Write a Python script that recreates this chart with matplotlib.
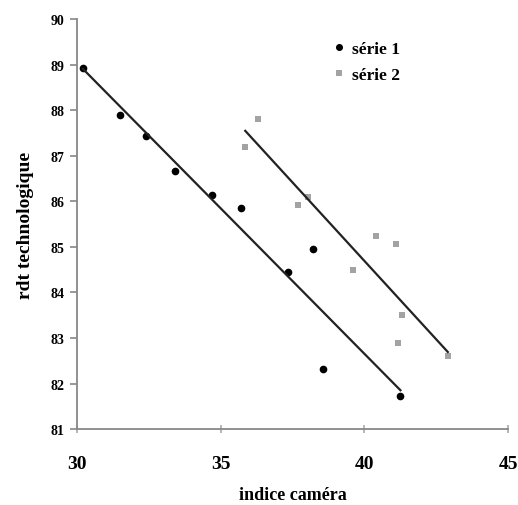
import numpy as np
import matplotlib
matplotlib.use("Agg")
from matplotlib import pyplot as plt

# série 1 (points noirs)
x1 = [30.2, 31.5, 32.4, 33.4, 34.7, 35.7, 37.35, 38.2, 38.55, 41.25]
y1 = [88.93, 87.9, 87.43, 86.66, 86.15, 85.85, 84.45, 84.95, 82.33, 81.72]
# série 2 (carrés gris)
x2 = [36.3, 35.85, 37.7, 38.05, 40.4, 41.1, 39.6, 41.3, 41.15, 42.9]
y2 = [87.8, 87.2, 85.93, 86.09, 85.23, 85.06, 84.5, 83.5, 82.89, 82.6]

xticks = [30, 35, 40, 45]
yticks = list(range(81, 91))

plt.rcParams['font.family'] = ['Liberation Serif', 'DejaVu Serif']
plt.rcParams['font.weight'] = 'bold'

fig = plt.figure(figsize=(5.18, 5.06), dpi=100)
ax = fig.add_axes([0.149, 0.150, 0.832, 0.810])

gris = '#a3a3a3'
ax.plot(x1, y1, 'o', color='black', markersize=4.5, label='série 1', zorder=3)
ax.plot(x2, y2, 's', color=gris, markersize=4.5, markeredgewidth=0, label='série 2', zorder=3)

# droites de tendance (moindres carrés)
for xs, ys in ((x1, y1), (x2, y2)):
	a, b = np.polyfit(xs, ys, 1)
	xx = np.array([min(xs), max(xs)])
	ax.plot(xx, a * xx + b, color='#222222', linewidth=1.6, zorder=4)

ax.set_xlim(30, 45)
ax.set_ylim(81, 90)
ax.set_xticks(xticks)
ax.set_yticks(yticks)

for s in ('top', 'right'):
	ax.spines[s].set_visible(False)
for s in ('left', 'bottom'):
	ax.spines[s].set_color('#888888')
	ax.spines[s].set_linewidth(1.3)

ax.tick_params(axis='y', direction='out', length=5, width=1.2, color='#888888', labelsize=10, pad=4)
ax.tick_params(axis='x', direction='inout', length=6, width=1.2, color='#aaaaaa', labelsize=14, pad=16)

ax.set_xlabel('indice caméra', fontsize=13, fontweight='bold', labelpad=10)
ax.set_ylabel('rdt technologique', fontsize=14, fontweight='bold', labelpad=12)

ax.legend(loc='upper left', bbox_to_anchor=(0.56, 0.985), frameon=False, fontsize=12.5,
	handlelength=0.6, handletextpad=0.4, labelspacing=0.55, markerscale=0.9)

fig.savefig('out.png', dpi=100)
